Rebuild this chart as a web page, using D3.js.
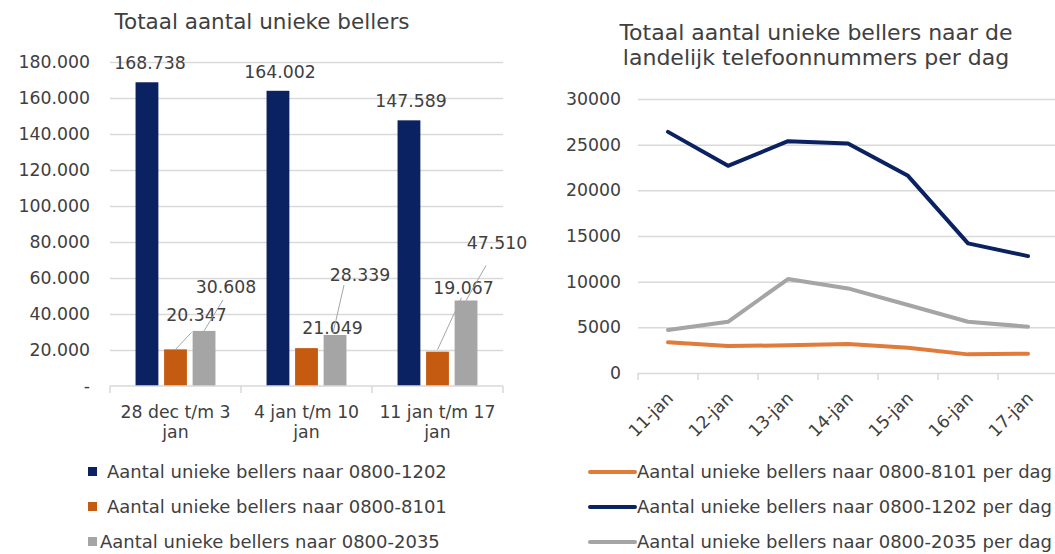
<!DOCTYPE html>
<html>
<head>
<meta charset="utf-8">
<script src="https://cdn.jsdelivr.net/npm/d3@7/dist/d3.min.js"></script>
<style>
  html, body { margin: 0; padding: 0; background: #fff; }
  svg { display: block; font-family: "DejaVu Sans", Verdana, sans-serif; }
</style>
</head>
<body>
<svg id="chart" width="1055" height="554"></svg>
<script>
// ---------- DATA ----------
const weekCategories = ["28 dec t/m 3 jan", "4 jan t/m 10 jan", "11 jan t/m 17 jan"];
const weekCategoryLines = [["28 dec t/m 3", "jan"], ["4 jan t/m 10", "jan"], ["11 jan t/m 17", "jan"]];
const barSeriesNames = ["Aantal unieke bellers naar 0800-1202", "Aantal unieke bellers naar 0800-8101", "Aantal unieke bellers naar 0800-2035"];
const bars1202 = [168738, 164002, 147589];
const bars8101 = [20347, 21049, 19067];
const bars2035 = [30608, 28339, 47510];
const barTicks = [0, 20000, 40000, 60000, 80000, 100000, 120000, 140000, 160000, 180000];

const days = ["11-jan", "12-jan", "13-jan", "14-jan", "15-jan", "16-jan", "17-jan"];
const lineSeriesNames = ["Aantal unieke bellers naar 0800-8101 per dag", "Aantal unieke bellers naar 0800-1202 per dag", "Aantal unieke bellers naar 0800-2035 per dag"];
const line8101 = [3360, 2950, 3030, 3170, 2770, 2040, 2110];
const line1202 = [26400, 22680, 25380, 25130, 21590, 14190, 12800];
const line2035 = [4700, 5610, 10290, 9260, 7440, 5610, 5070];
const lineTicks = [0, 5000, 10000, 15000, 20000, 25000, 30000];

// ---------- STYLE ----------
const textColor = "#404040";
const gridColor = "#d9d9d9";
const barColors = ["#0b2262", "#c55a11", "#a5a5a5"];
const lineColors = ["#e07b39", "#0b2262", "#a5a5a5"];
const FS = 17.3;      // general text size
const FS_LEG = 18;    // legend text size
// data label placement offsets (dx, dy) relative to bar top-center; [series][category]
const labelOffsets = [
  [[3, -13], [2, -13], [2, -13]],
  [[21, -28], [26, -14], [26, -58]],
  [[22, -38], [25, -54], [31, -51]]
];
const leaderLines = [
  null,
  [[0, 0, 16, -17], null, [0, -2, 24, -54]],
  [[0, 0, 19, -31], [-2, -2, 9, -50], [0, 0, 20, -35]]
];

const svg = d3.select("#chart");
const fmt = d => d === 0 ? "-" : d3.format(",")(d).replace(/,/g, ".");

// ---------- LEFT: grouped bars ----------
(function () {
  const x0 = d3.scaleBand().domain(weekCategories).range([110, 503]).paddingInner(0.39).paddingOuter(0.195);
  const x1 = d3.scaleBand().domain(barSeriesNames).range([0, x0.bandwidth()]).paddingInner(0.2);
  const y = d3.scaleLinear().domain([0, 180000]).range([386, 62]);
  const series = [bars1202, bars8101, bars2035];

  svg.append("text").attr("x", 262).attr("y", 29).attr("text-anchor", "middle")
    .attr("font-size", 21.5).attr("fill", textColor).text("Totaal aantal unieke bellers");

  const yAxis = svg.append("g").attr("transform", "translate(110,0)")
    .call(d3.axisLeft(y).tickValues(barTicks).tickSize(-393).tickFormat(fmt).tickPadding(20));
  yAxis.select(".domain").remove();
  yAxis.selectAll(".tick line").attr("stroke", gridColor).attr("stroke-width", 1.5);
  yAxis.selectAll(".tick text").attr("fill", textColor).attr("font-size", FS)
    .attr("font-family", "DejaVu Sans, Verdana, sans-serif");
  yAxis.selectAll(".tick").filter(d => d === 0).select("line").remove();

  // bars
  series.forEach((vals, si) => {
    svg.append("g").selectAll("rect").data(vals).join("rect")
      .attr("x", (d, i) => x0(weekCategories[i]) + x1(barSeriesNames[si]))
      .attr("width", x1.bandwidth())
      .attr("y", d => y(d))
      .attr("height", d => y(0) - y(d))
      .attr("fill", barColors[si]);
  });

  // x axis
  const xAxis = svg.append("g").attr("transform", "translate(0,386)");
  xAxis.append("line").attr("x1", 110).attr("x2", 503).attr("stroke", gridColor).attr("stroke-width", 1.5);
  const step = x0.step();
  d3.range(weekCategories.length + 1).forEach(i => {
    const xx = 110 + i * step;
    xAxis.append("line").attr("x1", xx).attr("x2", xx).attr("y1", 0).attr("y2", 7)
      .attr("stroke", gridColor).attr("stroke-width", 1.5);
  });
  weekCategories.forEach((c, i) => {
    const cx = x0(c) + x0.bandwidth() / 2;
    const t = xAxis.append("text").attr("text-anchor", "middle").attr("font-size", FS).attr("fill", textColor);
    weekCategoryLines[i].forEach((ln, k) => {
      t.append("tspan").attr("x", cx).attr("y", 32 + k * 20).text(ln);
    });
  });

  // leader lines and labels
  series.forEach((vals, si) => {
    vals.forEach((v, ci) => {
      const bx = x0(weekCategories[ci]) + x1(barSeriesNames[si]) + x1.bandwidth() / 2;
      const by = y(v);
      const ll = leaderLines[si] && leaderLines[si][ci];
      if (ll) {
        svg.append("line").attr("x1", bx + ll[0]).attr("y1", by + ll[1])
          .attr("x2", bx + ll[2]).attr("y2", by + ll[3])
          .attr("stroke", "#a6a6a6").attr("stroke-width", 1);
      }
      const off = labelOffsets[si][ci];
      svg.append("text").attr("x", bx + off[0]).attr("y", by + off[1])
        .attr("text-anchor", "middle").attr("font-size", FS).attr("fill", textColor)
        .text(fmt(v));
    });
  });

  // legend
  const lg = svg.append("g");
  const legendX = [[88, 107], [88, 107], [88, 100]];
  barSeriesNames.forEach((n, i) => {
    const yy = 472 + i * 35;
    lg.append("rect").attr("x", legendX[i][0]).attr("y", yy - 5).attr("width", 9).attr("height", 9).attr("fill", barColors[i]);
    lg.append("text").attr("x", legendX[i][1]).attr("y", yy + 6).attr("font-size", FS_LEG).attr("fill", textColor).text(n);
  });
})();

// ---------- RIGHT: lines ----------
(function () {
  const x = d3.scaleBand().domain(days).range([638, 1058]);
  const y = d3.scaleLinear().domain([0, 30000]).range([373, 99]);

  const title = svg.append("text").attr("text-anchor", "middle").attr("font-size", 22).attr("fill", textColor);
  title.append("tspan").attr("x", 816).attr("y", 40).text("Totaal aantal unieke bellers naar de");
  title.append("tspan").attr("x", 816).attr("y", 65).text("landelijk telefoonnummers per dag");

  const yAxis = svg.append("g").attr("transform", "translate(638,0)")
    .call(d3.axisLeft(y).tickValues(lineTicks).tickSize(-420).tickFormat(d3.format("d")).tickPadding(17));
  yAxis.select(".domain").remove();
  yAxis.selectAll(".tick line").attr("stroke", gridColor).attr("stroke-width", 1.5);
  yAxis.selectAll(".tick text").attr("fill", textColor).attr("font-size", FS)
    .attr("font-family", "DejaVu Sans, Verdana, sans-serif");

  // x axis ticks
  const xg = svg.append("g").attr("transform", "translate(0,373)");
  d3.range(days.length + 1).forEach(i => {
    const xx = 638 + i * x.step();
    xg.append("line").attr("x1", xx).attr("x2", xx).attr("y1", 0).attr("y2", 7)
      .attr("stroke", gridColor).attr("stroke-width", 1.5);
  });
  days.forEach(d => {
    const cx = x(d) + x.bandwidth() / 2;
    xg.append("text").attr("transform", `translate(${cx + 2},22) rotate(-45)`)
      .attr("text-anchor", "end").attr("dy", "0.35em").attr("font-size", FS).attr("fill", textColor).text(d);
  });

  const line = d3.line().x((d, i) => x(days[i]) + x.bandwidth() / 2).y(d => y(d));
  // draw order: gray, orange, navy on top
  [[line2035, 2], [line8101, 0], [line1202, 1]].forEach(([vals, ci]) => {
    svg.append("path").datum(vals).attr("d", line).attr("fill", "none")
      .attr("stroke", lineColors[ci]).attr("stroke-width", 4).attr("stroke-linejoin", "round").attr("stroke-linecap", "round");
  });

  const lg = svg.append("g");
  lineSeriesNames.forEach((n, i) => {
    const yy = 472 + i * 35;
    lg.append("line").attr("x1", 590).attr("x2", 635).attr("y1", yy).attr("y2", yy)
      .attr("stroke", lineColors[i]).attr("stroke-width", 4).attr("stroke-linecap", "round");
    lg.append("text").attr("x", 637).attr("y", yy + 6).attr("font-size", FS_LEG).attr("fill", textColor).text(n);
  });
})();
</script>
</body>
</html>
